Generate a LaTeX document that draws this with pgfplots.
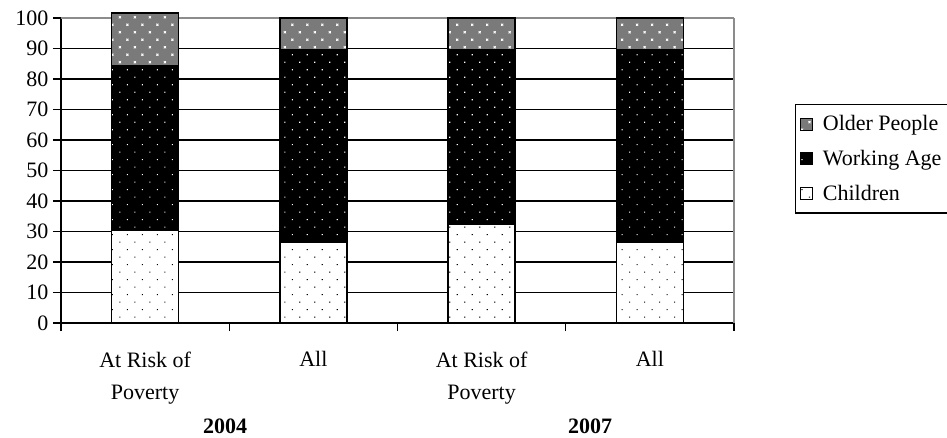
\documentclass[border=0pt]{standalone}
\usepackage{fontspec}
\setmainfont{Liberation Serif}
\usepackage{pgfplots}
\pgfplotsset{compat=1.18}
\usetikzlibrary{patterns.meta}

\newcommand{\chartfont}{\fontsize{22}{32}\selectfont}

\tikzset{
  kids/.style={fill=white, draw=black,
    postaction={pattern={Dots[distance=10.6pt, angle=45, radius=0.8pt]}, pattern color=black}},
  workage/.style={fill=black, draw=black,
    postaction={pattern={Dots[distance=10.6pt, angle=45, radius=0.8pt]}, pattern color=white}},
  older/.style={fill=black!52, draw=black,
    postaction={pattern={Stars[distance=10.6pt, angle=45, radius=1.8pt, points=4]}, pattern color=white}},
}

\begin{document}
\begin{tikzpicture}
\useasboundingbox (-61pt,-114pt) rectangle (886pt,323pt);
\clip (-61pt,-114pt) rectangle (886pt,323pt);
\begin{axis}[
  scale only axis,
  width=673pt, height=305pt,
  xmin=-0.5, xmax=3.5,
  ymin=0, ymax=100,
  clip=false,
  ybar stacked,
  bar width=67pt,
  axis lines=left,
  axis line style={-, line width=1.4pt, black},
  tick align=outside,
  major tick length=8pt,
  tick style={black, line width=1.3pt},
  xtick={-0.5,0.5,1.5,2.5,3.5},
  xticklabels={},
  extra x ticks={0,1,2,3},
  extra x tick labels={At Risk of\\Poverty, All, At Risk of\\Poverty, All},
  extra x tick style={major tick length=0pt,
    xticklabel style={align=center, yshift=-25pt}},
  ytick={0,10,...,90},
  extra y ticks={100},
  extra y tick style={grid=major, major grid style={draw=gray!90, line width=1.4pt}},
  ymajorgrids,
  major grid style={draw=black, line width=1.3pt},
  /pgf/number format/assume math mode=true,
  every tick label/.append style={font=\chartfont},
  yticklabel style={xshift=-1pt},
  legend style={
    at={(1.0906,0.718)}, anchor=north west,
    draw=black, line width=1.4pt,
    font=\chartfont,
    row sep=14pt,
    inner xsep=4pt, inner ysep=9pt,
    legend cell align=left,
  },
  reverse legend,
  legend image code/.code={\draw[#1, line width=1pt] (0pt,-6pt) rectangle (12pt,6pt); \path (20pt,0pt);},
]
\addplot[kids, line width=1.4pt] coordinates {(0,30.3) (1,26.5) (2,32.5) (3,26.5)};
\addlegendentry{Children}
\addplot[workage, line width=1.4pt] coordinates {(0,53.9) (1,63.0) (2,57.0) (3,63.0)};
\addlegendentry{Working Age}
\addplot[older, line width=1.4pt] coordinates {(0,17.5) (1,10.5) (2,10.5) (3,10.5)};
\addlegendentry{Older People}

\draw[gray!90, line width=1.4pt] (rel axis cs:1,0) -- (rel axis cs:1,1);
\node[font=\chartfont\bfseries, anchor=base] at (axis cs:0.475,0) [yshift=-110pt] {2004};
\node[font=\chartfont\bfseries, anchor=base] at (axis cs:2.645,0) [yshift=-110pt] {2007};
\end{axis}
\end{tikzpicture}
\end{document}
